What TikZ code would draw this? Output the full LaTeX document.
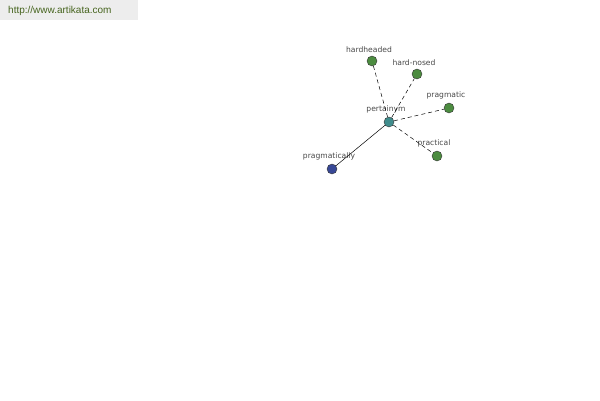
\documentclass[tikz,border=0pt]{standalone}
\usepackage{fontspec}
\setmainfont{Liberation Sans}
\newfontfamily\wordfont{DejaVu Sans}
\usetikzlibrary{arrows}

\definecolor{leaf}{RGB}{76,140,64}
\definecolor{hub}{RGB}{64,140,140}
\definecolor{adv}{RGB}{56,72,150}
\definecolor{site}{RGB}{70,100,30}

\begin{document}
\begin{tikzpicture}[x=1pt,y=-1pt,
  word/.style={circle,draw=black!80,line width=0.4pt,inner sep=0pt,minimum size=10pt,
    label distance=-2.5pt,label={[font=\wordfont\fontsize{7.6}{8}\selectfont,text=black!72,xshift=-3pt]above:#1}},
  syn/.style={dashed,dash pattern=on 4pt off 3pt,line width=0.5pt},
  rel/.style={line width=0.5pt}]

\useasboundingbox (0,0) rectangle (600,400);
\fill[black!7] (0,0) rectangle (138,20);
\node[text=site,font=\fontsize{10}{11}\selectfont,anchor=west,inner sep=0pt] (url) at (8,11) {http://www.artikata.com};

\node[word=pertainym,fill=hub]       (p)   at (389,122) {};
\node[word=hardheaded,fill=leaf]     (hh)  at (372,61)  {};
\node[word=hard-nosed,fill=leaf]     (hn)  at (417,74)  {};
\node[word=pragmatic,fill=leaf]      (pr)  at (449,108) {};
\node[word=practical,fill=leaf]      (pc)  at (437,156) {};
\node[word=pragmatically,fill=adv]   (pa)  at (332,169) {};

	\path (p)  edge[syn] (hh)
	           edge[syn] (hn)
	           edge[syn] (pr)
	           edge[syn] (pc)
	           edge[rel] (pa);
\end{tikzpicture}
\end{document}
